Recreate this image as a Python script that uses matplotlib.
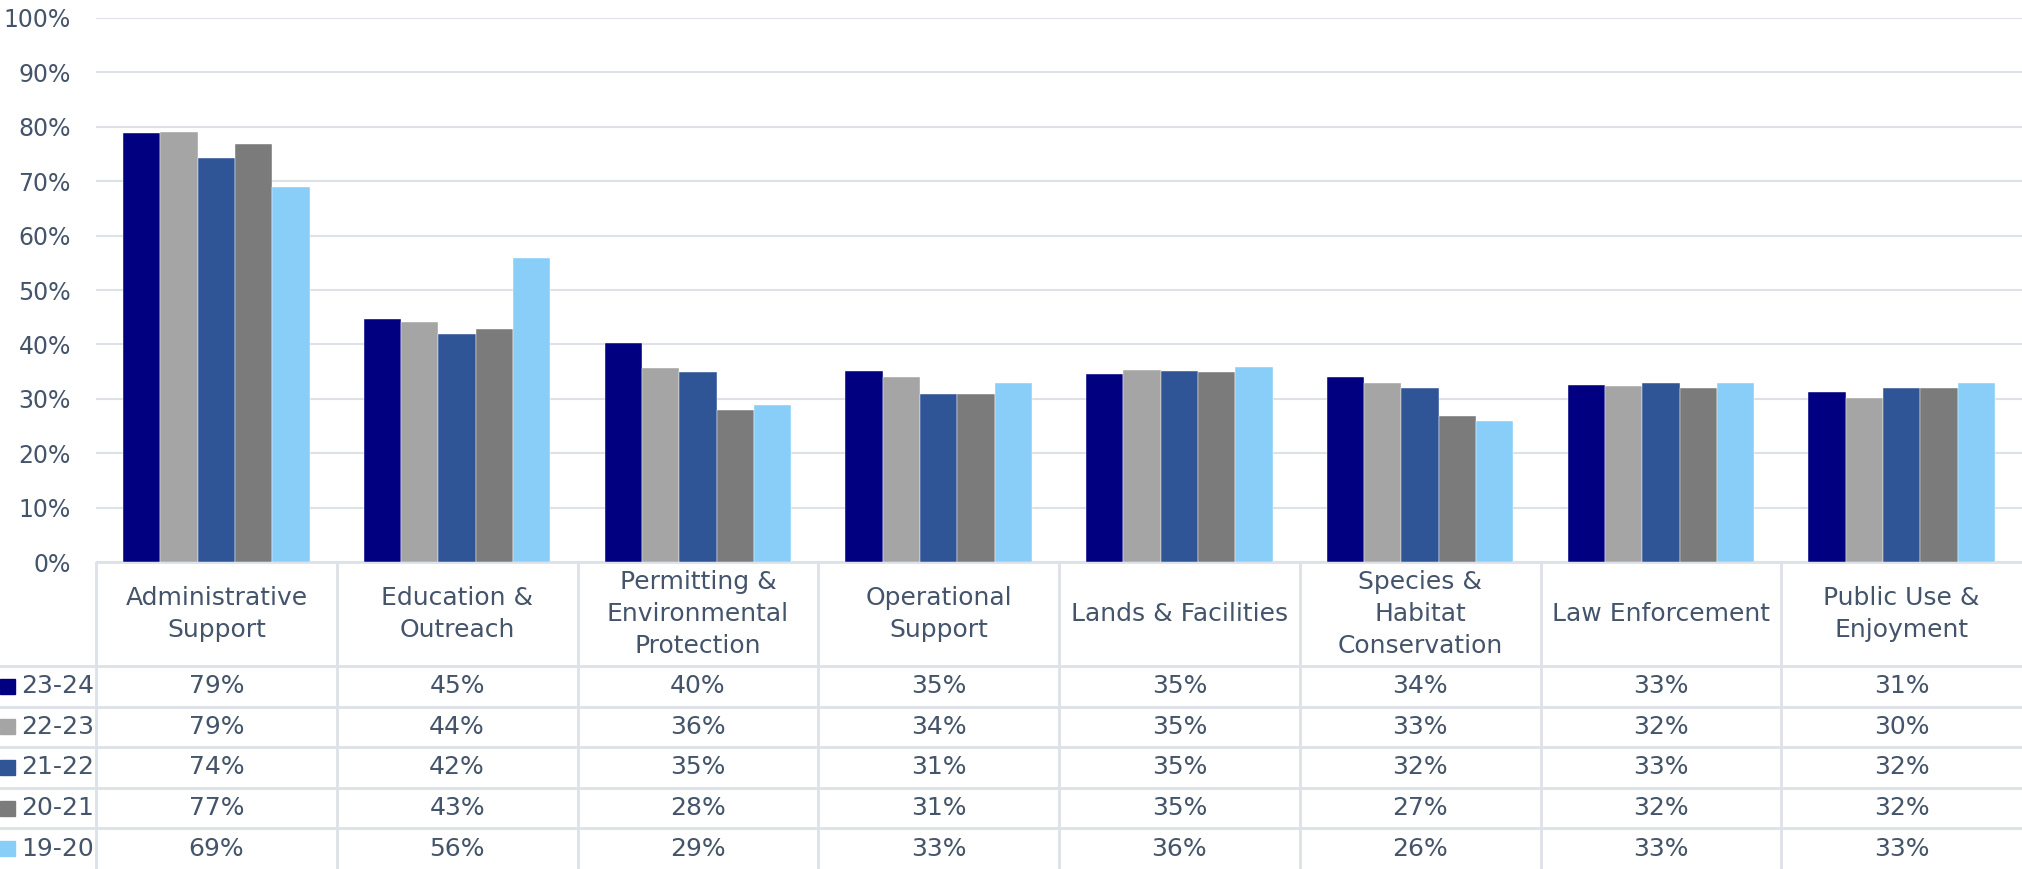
import numpy as np
import matplotlib
matplotlib.use("Agg")
import matplotlib.pyplot as plt
from matplotlib.patches import Rectangle

# data
categories = ["Administrative\nSupport", "Education &\nOutreach",
              "Permitting &\nEnvironmental\nProtection", "Operational\nSupport",
              "Lands & Facilities", "Species &\nHabitat\nConservation",
              "Law Enforcement", "Public Use &\nEnjoyment"]
years = ["23-24", "22-23", "21-22", "20-21", "19-20"]
fy2324 = [78.9, 44.7, 40.2, 35.1, 34.6, 34.0, 32.6, 31.2]
fy2223 = [79.1, 44.1, 35.6, 34.0, 35.3, 32.9, 32.4, 30.1]
fy2122 = [74.2, 41.9, 34.9, 30.9, 35.2, 31.9, 32.9, 31.9]
fy2021 = [76.9, 42.9, 27.9, 30.9, 34.9, 26.9, 31.9, 31.9]
fy1920 = [68.9, 55.9, 28.9, 32.9, 35.9, 25.9, 32.9, 32.9]
series = [fy2324, fy2223, fy2122, fy2021, fy1920]
colors = ["#000080", "#A5A5A5", "#2F5597", "#7B7B7B", "#89CDF9"]
yticks = list(range(0, 101, 10))

text_col = "#44546A"
grid_col = "#DDE1E8"
fs = 18
plt.rcParams["font.family"] = ["DejaVu Sans"]

W, H = 2022, 869
fig = plt.figure(figsize=(W / 100, H / 100), dpi=100)

x0, x1 = 96, 2022          # plot area in pixels
y_zero, y_top = 562, 18
ax = fig.add_axes([x0 / W, (H - y_zero) / H, (x1 - x0) / W, (y_zero - y_top) / H])

n = len(categories)
x = np.arange(n)
bw = 0.155
for i, (vals, c) in enumerate(zip(series, colors)):
    ax.bar(x + (i - 2) * bw, vals, bw, color=c, edgecolor="white", linewidth=0.3,
           zorder=3, label=years[i])

ax.set_xlim(-0.5, n - 0.5)
ax.set_ylim(0, 100)
ax.set_yticks(yticks)
ax.set_yticklabels([f"{t}%" for t in yticks], color=text_col, fontsize=17)
ax.tick_params(axis="y", length=0, pad=18)
ax.set_xticks([])
ax.grid(axis="y", color=grid_col, linewidth=1.5, zorder=0)
for s in ax.spines.values():
    s.set_visible(False)

# data table below the plot
tab = fig.add_axes([0, 0, 1, (H - y_zero) / H])
cat_w = (x1 - x0) / n
left_units = x0 / cat_w
tab.set_xlim(-0.5 - left_units, n - 0.5)
hdr = 104
row_h = (H - y_zero - hdr) / len(years)
tab.set_ylim(H - y_zero, 0)
tab.axis("off")

lw = 2.0
tab.plot([-0.5, n - 0.5], [0, 0], color=grid_col, lw=lw)
for r in range(len(years)):
    yy = hdr + r * row_h
    tab.plot([-0.5 - left_units, n - 0.5], [yy, yy], color=grid_col, lw=lw)
for k in range(n):
    tab.plot([k - 0.5, k - 0.5], [0, H - y_zero], color=grid_col, lw=lw)
    tab.text(k, hdr / 2, categories[k], ha="center", va="center", color=text_col,
             fontsize=fs, linespacing=1.4)

px = 1 / cat_w
for r, (yr, vals, c) in enumerate(zip(years, series, colors)):
    yc = hdr + (r + 0.5) * row_h
    tab.add_patch(Rectangle((-0.5 - left_units, yc - 7.5), 15 * px, 15, color=c,
                            clip_on=False))
    tab.text(-0.5 - left_units + 21 * px, yc, yr, ha="left", va="center",
             color=text_col, fontsize=fs)
    for k in range(n):
        tab.text(k, yc, f"{round(vals[k])}%", ha="center", va="center",
                 color=text_col, fontsize=fs)

fig.savefig("out.png", dpi=100)
